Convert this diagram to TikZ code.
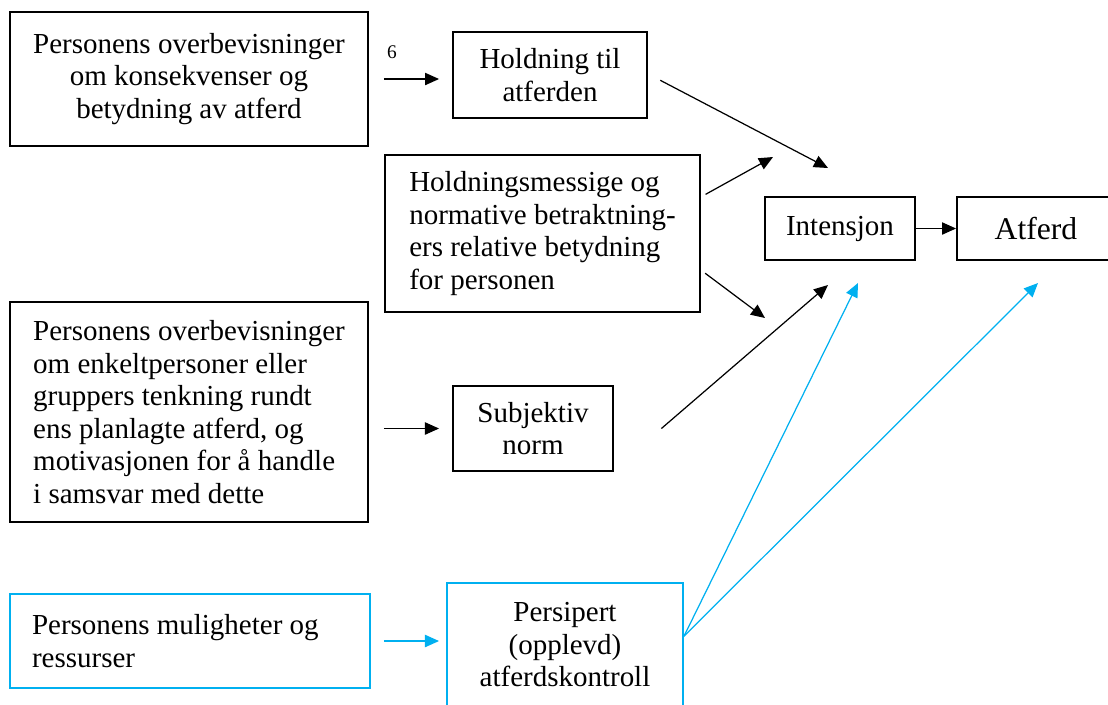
\documentclass[tikz,border=0pt]{standalone}
\usepackage{fontspec}
\setmainfont{Liberation Serif}
\usetikzlibrary{arrows.meta}

\definecolor{lyseblaa}{HTML}{00B0F0}

\begin{document}
\begin{tikzpicture}[->,>={Triangle[length=8pt,width=7pt]},line width=0.7pt,
                    x=0.02cm,y=-0.02cm,
                    font=\fontsize{16.5}{18.5}\selectfont]
  \tikzstyle{boks}=[draw=black,line width=1.1pt,inner sep=0pt,align=center]
  \tikzstyle{venstreboks}=[boks,align=left]
  \tikzstyle{blaa}=[draw=lyseblaa]

  \useasboundingbox (0,0) rectangle (1108,704);

  \node[boks,minimum width=7.16cm,minimum height=2.68cm] (konsekvens) at (189,79)
       {Personens overbevisninger\\om konsekvenser og\\betydning av atferd};
  \node[boks,minimum width=3.88cm,minimum height=1.72cm] (holdning) at (550,75)
       {Holdning til\\atferden};
  \node[venstreboks,minimum width=6.3cm,minimum height=3.14cm] (vekt) at (542.5,233.5)
       {Holdningsmessige og\\normative betraktning-\\ers relative betydning\\for personen};
  \node[boks,minimum width=3cm,minimum height=1.26cm] (intensjon) at (840,228.5) {Intensjon};
  \node[boks,minimum width=3.16cm,minimum height=1.26cm,
        font=\fontsize{18}{20}\selectfont] (atferd) at (1036,228.5) {Atferd};
  \node[venstreboks,minimum width=7.16cm,minimum height=4.4cm] (normtro) at (189,412)
       {Personens overbevisninger\\om enkeltpersoner eller\\gruppers tenkning rundt\\ens planlagte atferd, og\\motivasjonen for å handle\\i samsvar med dette};
  \node[boks,minimum width=3.2cm,minimum height=1.7cm] (norm) at (533,428.5) {Subjektiv\\norm};
  \node[venstreboks,blaa,align=flush left,inner xsep=0.44cm,text width=6.32cm,
        minimum height=1.88cm] (ressurser) at (190,641)
       {Personens muligheter og\\ressurser};
  \node[boks,blaa,minimum width=4.72cm,minimum height=2.48cm] (kontroll) at (565,645)
       {Persipert\\(opplevd)\\atferdskontroll};
  \node[font=\fontsize{11}{13}\selectfont] (seks) at (392,52) {6};

  % frie pilspisser
  \coordinate (tilint1) at (828,168);
  \coordinate (tilint2) at (773,157);
  \coordinate (tilint3) at (765,318);
  \coordinate (tilint4) at (828,285);
  \coordinate (tilint5) at (858,283);
  \coordinate (tilatf)  at (1038,283);

  \path (konsekvens.east) edge [shorten <=8.5pt,shorten >=7.4pt] (holdning.west |- konsekvens.east)
        (normtro.east |- norm.west) edge [shorten <=8.5pt,shorten >=7.4pt] (norm.west)
        (ressurser.east) edge [lyseblaa,shorten <=7.4pt,shorten >=4pt] (kontroll.west |- ressurser.east)
        ([xshift=7pt,yshift=-3pt]holdning.east) edge (tilint1)
        (vekt.13)  edge [shorten <=3pt] (tilint2)
        (vekt.-13) edge [shorten <=3pt] (tilint3)
        ([xshift=27pt]norm.east) edge (tilint4)
        (intensjon) edge (atferd)
        ([yshift=5pt]kontroll.east) edge [lyseblaa] (tilint5)
        ([yshift=5pt]kontroll.east) edge [lyseblaa] (tilatf);
\end{tikzpicture}
\end{document}
